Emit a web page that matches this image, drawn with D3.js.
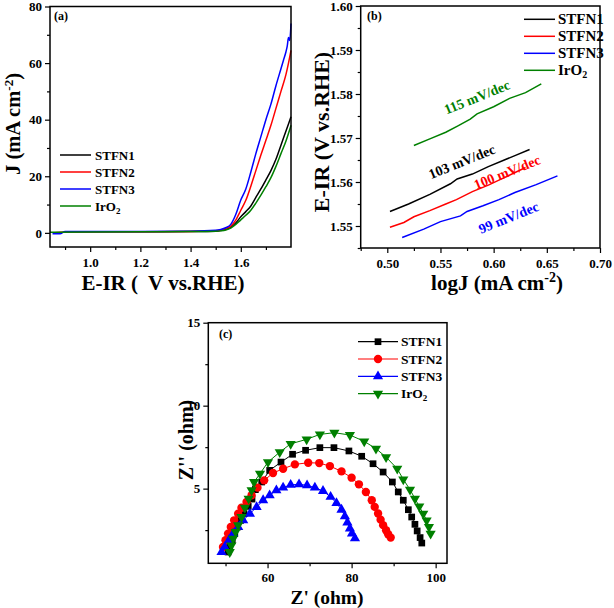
<!DOCTYPE html>
<html><head><meta charset="utf-8">
<script src="https://cdn.jsdelivr.net/npm/d3@7"></script>
<style>body{margin:0;background:#fff}svg{display:block}text{font-family:"Liberation Serif","Times New Roman",serif;font-weight:bold;fill:#000}</style>
</head><body><svg id="c" width="614" height="608"></svg>
<script>
// ---------- Data ----------
const seriesNames = ["STFN1","STFN2","STFN3","IrO2"];
const colors = ["#000000","#ff0000","#0000ff","#008000"];

// Panel (a): LSV curves  E (V vs RHE) / J (mA cm-2)
const aE_STFN1 = [0.9,1.2,1.4,1.5,1.52,1.54,1.56,1.58,1.6,1.62,1.64,1.66,1.68,1.7,1.72,1.74,1.76,1.78,1.8];
const aJ_STFN1 = [0.4,0.4,0.5,0.6,0.8,1.2,2.0,3.5,5.7,7.5,9.5,12.5,15.5,18.7,22,26,31,36,41];
const aE_STFN2 = [0.86,0.9,1.2,1.4,1.5,1.52,1.54,1.56,1.58,1.6,1.62,1.64,1.66,1.68,1.7,1.72,1.74,1.76,1.78,1.79,1.8];
const aJ_STFN2 = [0.0,0.3,0.4,0.5,0.7,1.0,1.5,2.4,4.5,8,11.5,16.5,22,27.5,32.7,38,44,50,56,60,64.5];
const aE_STFN3 = [0.85,0.88,0.9,1.0,1.2,1.4,1.5,1.52,1.54,1.56,1.58,1.6,1.62,1.64,1.66,1.68,1.7,1.72,1.74,1.76,1.77,1.78,1.785,1.79,1.795,1.8];
const aJ_STFN3 = [-0.3,-0.3,0.5,0.5,0.5,0.6,0.9,1.2,1.8,3.0,6.5,11.6,15.5,21.5,28,34,40,45.5,52,58,61,64,66,69,68,74];
const aE_IrO2 = [0.84,1.0,1.2,1.4,1.5,1.52,1.54,1.56,1.58,1.6,1.62,1.64,1.66,1.68,1.7,1.72,1.74,1.76,1.78,1.8];
const aJ_IrO2 = [0.2,0.3,0.4,0.45,0.55,0.7,1.0,1.7,3.0,4.6,6.2,8.0,10.5,13.3,16.3,19.5,23.5,28,32.5,38];

// Panel (b): Tafel  logJ / E-IR
const bX_STFN1 = [0.5025,0.52,0.54,0.5594,0.5657,0.58,0.595,0.61,0.62,0.6338];
const bY_STFN1 = [1.5533,1.5550,1.5572,1.5596,1.5607,1.5618,1.5635,1.5650,1.5660,1.5674];
const bX_STFN2 = [0.5025,0.5156,0.525,0.54,0.555,0.565,0.58,0.595,0.61,0.63];
const bY_STFN2 = [1.5497,1.5508,1.5521,1.5535,1.5550,1.5560,1.5578,1.5593,1.5610,1.5633];
const bX_STFN3 = [0.514,0.5343,0.55,0.5688,0.575,0.59,0.605,0.62,0.64,0.66];
const bY_STFN3 = [1.5474,1.5493,1.5510,1.5523,1.5533,1.5546,1.5560,1.5576,1.5594,1.5614];
const bX_IrO2 = [0.525,0.54,0.555,0.566,0.578,0.5844,0.60,0.615,0.63,0.6448];
const bY_IrO2 = [1.5683,1.5698,1.5713,1.5727,1.5743,1.5755,1.5771,1.5790,1.5803,1.5823];
const tafelLabels = ["103 mV/dec","100 mV/dec","99 mV/dec","115 mV/dec"];

// Panel (c): Nyquist  Z' / Z''
const cX_STFN1 = [50.6,51.0,51.6,52.2,52.86,53.6,54.4,55.4,56.3,57.1,58.6,60.5,63.2,65.95,69.05,72.45,75.8,79.36,82.4,85.1,87.5,89.7,91.1,92.3,93.5,94.3,95.07,95.6,96.3,96.7];
const cY_STFN1 = [1.18,1.48,1.89,2.29,2.69,3.09,3.49,3.93,4.37,4.94,5.4,6.1,6.6,7.07,7.31,7.47,7.47,7.27,6.95,6.5,6.0,5.4,4.8,4.3,3.73,3.29,2.85,2.45,2.05,1.72];
const cX_STFN2 = [49.4,50.0,50.6,51.26,52.05,53.0,53.8,55.0,56.2,57.6,59.2,61.3,63.7,66.5,69.67,72.3,74.83,77.6,80.0,81.74,83.4,84.8,85.5,86.3,86.9,87.5,88.2,88.7,89.3];
const cY_STFN2 = [1.48,1.89,2.29,2.69,3.09,3.49,3.85,4.2,4.6,5.06,5.5,5.94,6.2,6.46,6.56,6.54,6.36,6.04,5.66,5.26,4.8,4.3,3.9,3.5,3.13,2.8,2.49,2.25,2.05];
const cX_STFN3 = [49.05,49.8,50.8,51.8,53.0,54.2,55.8,57.4,58.95,60.5,62.1,63.7,65.5,67.5,69.4,71.26,73.2,75.0,76.4,77.6,78.4,79.0,79.6,80.1,80.8];
const cY_STFN3 = [1.18,1.48,1.89,2.29,2.69,3.09,3.49,3.89,4.3,4.6,4.9,5.06,5.23,5.26,5.2,5.06,4.86,4.5,4.13,3.73,3.33,2.95,2.6,2.3,2.0];
const cX_IrO2 = [51.0,51.4,51.8,52.4,53.0,53.8,54.6,55.5,56.2,56.8,58.2,60.1,62.9,65.5,69.3,72.45,75.9,79.6,83.0,85.8,88.2,90.86,92.3,93.9,95.07,96.1,97.05,97.85,98.4,98.8];
const cY_IrO2 = [1.18,1.58,1.99,2.39,2.79,3.29,3.85,4.4,4.9,5.4,5.9,6.6,7.2,7.7,7.97,8.27,8.37,8.23,7.85,7.41,6.9,6.2,5.56,4.94,4.4,3.93,3.49,3.09,2.69,2.29];

const aYTicks = [0,20,40,60,80], aXTicks = [1.0,1.2,1.4,1.6];
const bYTicks = [1.55,1.56,1.57,1.58,1.59,1.60], bXTicks = [0.50,0.55,0.60,0.65,0.70];
const cYTicks = [5,10,15], cXTicks = [60,80,100];

// ---------- Drawing ----------
const svg = d3.select("#c");
const zip = (xs, ys) => xs.map((x,i)=>[x, ys[i]]);

function frame(g, x, y, xTicks, yTicks, xMinor, yMinor, xFmt, yFmt, fs, xdy){
  const [x0,x1] = x.range(), [y0,y1] = y.range();
  const xa = d3.axisBottom(x).tickValues(xTicks).tickFormat(xFmt).tickSize(5).tickSizeOuter(0);
  const ya = d3.axisLeft(y).tickValues(yTicks).tickFormat(yFmt).tickSize(5).tickSizeOuter(0);
  const gx = g.append("g").attr("transform",`translate(0,${y0})`).call(xa);
  const gy = g.append("g").attr("transform",`translate(${x0},0)`).call(ya);
  g.append("g").attr("transform",`translate(0,${y0})`).call(d3.axisBottom(x).tickValues(xMinor).tickFormat("").tickSize(3).tickSizeOuter(0)).select(".domain").remove();
  g.append("g").attr("transform",`translate(${x0},0)`).call(d3.axisLeft(y).tickValues(yMinor).tickFormat("").tickSize(3).tickSizeOuter(0)).select(".domain").remove();
  g.selectAll(".tick line").attr("stroke","#000").attr("stroke-width",1.2);
  g.selectAll(".domain").remove();
  gx.selectAll("text").attr("font-size",fs).attr("dy",xdy||"0.95em").attr("font-family","Liberation Serif").attr("font-weight","bold");
  gy.selectAll("text").attr("font-size",fs).attr("font-family","Liberation Serif").attr("font-weight","bold");
  g.append("rect").attr("x",x0).attr("y",y1).attr("width",x1-x0).attr("height",y0-y1)
    .attr("fill","none").attr("stroke","#000").attr("stroke-width",1.5);
}

// Panel (a)
{
  const g = svg.append("g");
  const x = d3.scaleLinear().domain([0.84,1.8]).range([50,291]);
  const y = d3.scaleLinear().domain([-5,80]).range([247,6.5]);
  const data = [zip(aE_STFN1,aJ_STFN1), zip(aE_STFN2,aJ_STFN2), zip(aE_STFN3,aJ_STFN3), zip(aE_IrO2,aJ_IrO2)];
  const line = d3.line().x(d=>x(d[0])).y(d=>y(d[1])).curve(d3.curveMonotoneX);
  [0,1,2,3].forEach(i=> g.append("path").datum(data[i]).attr("d",line).attr("fill","none").attr("stroke",colors[i]).attr("stroke-width",1.5));
  frame(g,x,y,aXTicks,aYTicks,[0.9,1.1,1.3,1.5,1.7],[10,30,50,70],d3.format(".1f"),d3.format("d"),13);
  g.append("text").attr("x",54).attr("y",20).attr("font-size",12).text("(a)");
  seriesNames.forEach((n,i)=>{
    const yy = 155 + i*17;
    g.append("line").attr("x1",60).attr("x2",91).attr("y1",yy).attr("y2",yy).attr("stroke",colors[i]).attr("stroke-width",1.5);
    const t = g.append("text").attr("x",95).attr("y",yy+4.5).attr("font-size",13);
    if(n==="IrO2"){ t.append("tspan").text("IrO"); t.append("tspan").attr("font-size",9).attr("dy",3).text("2"); }
    else t.text(n);
  });
  const yl = g.append("text").attr("transform","translate(19.5,124) rotate(-90)").attr("text-anchor","middle").attr("font-size",20.5);
  yl.append("tspan").text("J  (mA cm");
  yl.append("tspan").attr("font-size",13).attr("dy",-7).text("-2");
  yl.append("tspan").attr("dy",7).text(")");
  g.append("text").attr("x",163).attr("y",290).attr("text-anchor","middle").attr("font-size",21).attr("xml:space","preserve").text("E-IR (  V vs.RHE)");
}

// Panel (b)
{
  const g = svg.append("g");
  const x = d3.scaleLinear().domain([0.475,0.70]).range([360.7,600]);
  const y = d3.scaleLinear().domain([1.545,1.60]).range([248,6]);
  const data = [zip(bX_STFN1,bY_STFN1), zip(bX_STFN2,bY_STFN2), zip(bX_STFN3,bY_STFN3), zip(bX_IrO2,bY_IrO2)];
  const line = d3.line().x(d=>x(d[0])).y(d=>y(d[1]));
  data.forEach((d,i)=> g.append("path").datum(d).attr("d",line).attr("fill","none").attr("stroke",colors[i]).attr("stroke-width",1.5));
  frame(g,x,y,bXTicks,bYTicks,[0.475,0.525,0.575,0.625,0.675],[1.545,1.555,1.565,1.575,1.585,1.595],d3.format(".2f"),d3.format(".2f"),13);
  g.append("text").attr("x",367).attr("y",20).attr("font-size",12).text("(b)");
  const ann = [[461.7,161.5],[507,172],[508.5,217.5],[477,97]];
  ann.forEach((p,i)=> g.append("text").attr("transform",`translate(${p[0]},${p[1]}) rotate(-22)`)
     .attr("text-anchor","middle").attr("dy","0.35em").attr("font-size",14).style("fill",colors[i]).text(tafelLabels[i]));
  seriesNames.forEach((n,i)=>{
    const yy = 19.3 + i*17;
    g.append("line").attr("x1",524).attr("x2",555).attr("y1",yy).attr("y2",yy).attr("stroke",colors[i]).attr("stroke-width",1.5);
    const t = g.append("text").attr("x",558).attr("y",yy+5).attr("font-size",15);
    if(n==="IrO2"){ t.append("tspan").text("IrO"); t.append("tspan").attr("font-size",10).attr("dy",3).text("2"); }
    else t.text(n);
  });
  g.append("text").attr("transform","translate(329,132) rotate(-90)").attr("text-anchor","middle").attr("font-size",22).text("E-IR (V vs.RHE)");
  const xl = g.append("text").attr("x",497).attr("y",290).attr("text-anchor","middle").attr("font-size",21);
  xl.append("tspan").text("logJ (mA cm");
  xl.append("tspan").attr("font-size",14).attr("dy",-8).text("-2");
  xl.append("tspan").attr("dy",8).text(")");
}

// Panel (c)
{
  const g = svg.append("g");
  const x = d3.scaleLinear().domain([45.9,102.7]).range([208.3,447]);
  const y = d3.scaleLinear().domain([0.5,15]).range([563.3,322.7]);
  const data = [zip(cX_STFN1,cY_STFN1), zip(cX_STFN2,cY_STFN2), zip(cX_STFN3,cY_STFN3), zip(cX_IrO2,cY_IrO2)];
  const symbols = [d3.symbolSquare, d3.symbolCircle, d3.symbolTriangle, d3.symbolTriangle];
  const sizes = [45, 55, 45, 45];
  const rots = [0,0,0,180];
  const line = d3.line().x(d=>x(d[0])).y(d=>y(d[1]));
  data.forEach((d,i)=>{
    g.append("path").datum(d).attr("d",line).attr("fill","none").attr("stroke",colors[i]).attr("stroke-width",1);
  });
  data.forEach((d,i)=>{
    g.append("g").selectAll("path").data(d).join("path")
      .attr("transform",p=>`translate(${x(p[0])},${y(p[1])}) rotate(${rots[i]})`)
      .attr("d",d3.symbol(symbols[i],sizes[i])).attr("fill",colors[i]);
  });
  frame(g,x,y,cXTicks,cYTicks,[50,70,90],[2.5,7.5,12.5],d3.format("d"),d3.format("d"),13,"0.8em");
  g.append("text").attr("x",219).attr("y",338).attr("font-size",12).text("(c)");
  seriesNames.forEach((n,i)=>{
    const yy = 341.7 + i*17.3;
    g.append("line").attr("x1",358).attr("x2",398).attr("y1",yy).attr("y2",yy).attr("stroke",colors[i]).attr("stroke-width",1.2);
    g.append("path").attr("transform",`translate(378,${yy}) rotate(${rots[i]})`).attr("d",d3.symbol(symbols[i],sizes[i])).attr("fill",colors[i]);
    const t = g.append("text").attr("x",401).attr("y",yy+4.5).attr("font-size",13.5);
    if(n==="IrO2"){ t.append("tspan").text("IrO"); t.append("tspan").attr("font-size",9).attr("dy",3).text("2"); }
    else t.text(n);
  });
  g.append("text").attr("transform","translate(193,440) rotate(-90)").attr("text-anchor","middle").attr("font-size",20).text("Z'' (ohm)");
  g.append("text").attr("x",327).attr("y",604).attr("text-anchor","middle").attr("font-size",19.5).text("Z' (ohm)");
}
</script></body></html>
